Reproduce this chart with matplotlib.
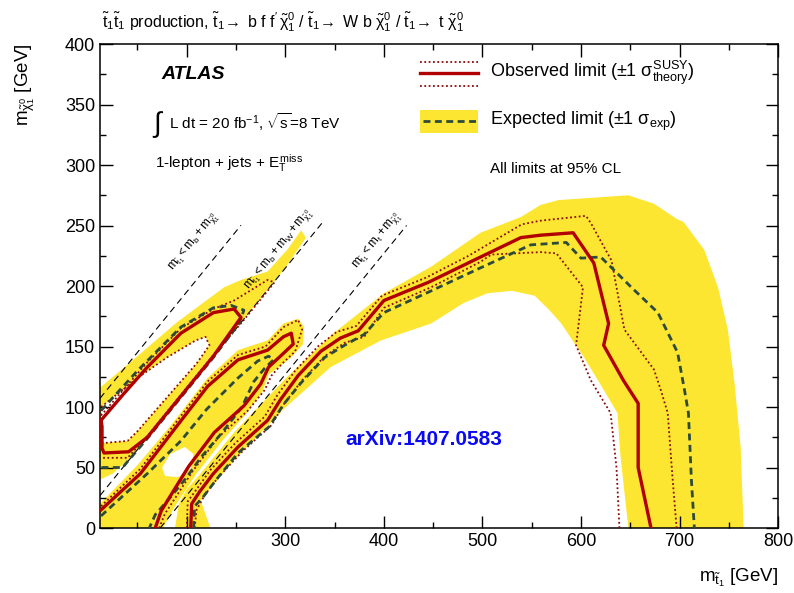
import matplotlib
matplotlib.use('Agg')
import matplotlib.pyplot as plt
from matplotlib.ticker import MultipleLocator

plt.rcParams['font.family'] = ['Liberation Sans', 'DejaVu Sans']
plt.rcParams['mathtext.fontset'] = 'custom'
plt.rcParams['mathtext.rm'] = 'Liberation Sans'
plt.rcParams['mathtext.it'] = 'Liberation Sans'
plt.rcParams['mathtext.bf'] = 'Liberation Sans:bold'

# ---- main region (t1 -> t chi / W b chi) ----
band_main_x = [188, 192, 200, 214, 248, 302, 349, 400, 448, 498, 539, 559, 577, 648, 674, 698, 704, 725, 739,
               749, 756, 762, 765,
               648, 640, 637, 618, 600, 593, 580, 568, 553, 530, 505, 481, 448, 397, 346, 298, 248, 214, 224]
band_main_y = [0, 20, 32, 45, 79, 125, 161, 194, 216, 244, 257, 267, 271, 275, 268, 255, 253, 230, 199,
               164, 118, 67, 0,
               0, 60, 95, 121, 145, 153, 169, 180, 192, 196, 194, 186, 169, 155, 133, 98, 56, 23, 0]

obs_main_x = [204, 205, 213, 227, 252, 282, 295, 313, 336, 356, 374, 400, 445, 488, 539, 559, 592, 613, 628,
              623, 643, 658, 658, 671]
obs_main_y = [0, 20, 30, 45, 67, 89, 106, 126, 146, 157, 163, 188, 203, 220, 240, 242, 244, 219, 169,
              151, 122, 103, 50, 0]

exp_main_x = [207, 208, 216, 230, 252, 284, 298, 316, 340, 360, 380, 400, 448, 498, 549, 585, 600, 620, 651,
              678, 698, 705, 709, 712, 715]
exp_main_y = [0, 18, 25, 40, 62, 84, 102, 120, 141, 151, 160, 178, 196, 215, 234, 236, 223, 224, 199,
              178, 145, 114, 95, 40, 0]

obs_up_main_x = [200, 201, 210, 224, 249, 279, 292, 310, 333, 352, 372, 398, 443, 486, 540, 559, 605, 610,
                 631, 644, 654, 674, 681, 688, 693, 697]
obs_up_main_y = [0, 22, 32, 48, 70, 92, 110, 130, 150, 162, 167, 192, 207, 225, 251, 254, 258, 252,
                 221, 164, 153, 131, 114, 95, 40, 0]

obs_dn_main_x = [208, 210, 218, 231, 256, 286, 299, 317, 340, 360, 380, 400, 448, 498, 509, 559, 575, 602,
                 595, 610, 630, 636, 639]
obs_dn_main_y = [0, 15, 27, 41, 63, 85, 103, 122, 142, 153, 158, 182, 199, 220, 226, 228, 227, 199,
                 151, 122, 95, 50, 0]

# ---- upper compressed strip (t1 -> b f f' chi) ----
band_upper_x = [112, 150, 190, 238, 255, 282, 302, 316, 321, 300, 256, 200, 160, 140, 125, 112]
band_upper_y = [116, 142, 170, 199, 205, 212, 230, 246, 240, 215, 171, 115, 75, 56, 45, 40]

hole_upper_x = [113, 150, 180, 209, 219, 223, 210, 180, 150, 140, 113]
hole_upper_y = [100, 124, 141, 155, 158, 151, 136, 108, 80, 72, 70]

obs_upper_x = [113, 135, 160, 194, 227, 248, 255, 227, 194, 160, 141, 116, 114, 114, 113]
obs_upper_y = [89, 110, 133, 161, 178, 181, 174, 142, 109, 75, 63, 62, 66, 84, 89]

exp_upper_x = [113, 150, 194, 227, 245, 258, 253, 227, 194, 160, 140, 135, 113]
exp_upper_y = [97, 130, 166, 182, 184, 180, 169, 141, 108, 74, 55, 50, 50]

obs_up_upper_x = [113, 160, 194, 227, 248, 282, 289, 257, 227, 194, 160, 140, 113]
obs_up_upper_y = [93, 137, 165, 181, 188, 205, 203, 171, 143, 110, 76, 58, 58]

# ---- middle island (t1 -> W b chi) ----
band_island_x = [112, 112, 150, 184, 221, 252, 282, 298, 313, 319, 318, 306, 292, 283, 277, 260, 236, 210,
                 188, 176]
band_island_y = [0, 20, 52, 85, 124, 147, 155, 169, 173, 166, 152, 141, 132, 127, 113, 94, 72, 45, 18, 0]

hole_island_x = [175, 183, 198, 207, 204, 191, 178]
hole_island_y = [50, 61, 67, 61, 49, 42, 43]

obs_island_x = [113, 153, 184, 221, 252, 282, 298, 306, 308, 295, 283, 275, 258, 228, 202, 186, 174, 168]
obs_island_y = [15, 45, 78, 117, 139, 147, 158, 161, 152, 142, 133, 119, 101, 79, 51, 30, 14, 0]

exp_island_x = [113, 160, 194, 220, 252, 272, 283, 288, 279, 268, 256, 236, 214, 200, 184, 168, 162]
exp_island_y = [10, 45, 72, 98, 124, 138, 142, 139, 132, 121, 100, 79, 58, 42, 26, 11, 0]

obs_up_island_x = [113, 153, 184, 221, 252, 280, 298, 313, 317, 310, 297, 286, 279, 262, 232, 206, 178, 172]
obs_up_island_y = [18, 49, 82, 121, 143, 150, 166, 172, 164, 146, 136, 126, 114, 97, 75, 47, 12, 0]

# ---- kinematic boundaries m_stop = offset + m_chi ----
kin_offsets = [4.8, 85.2, 173.0]
kin_x_start = [112, 112, 173]
kin_x_end = [255, 338, 423]
kin_labels = [r'$m_{\tilde{t}_1} < m_b + m_{\tilde{\chi}^0_1}$',
              r'$m_{\tilde{t}_1} < m_b + m_W + m_{\tilde{\chi}^0_1}$',
              r'$m_{\tilde{t}_1} < m_t + m_{\tilde{\chi}^0_1}$']
kin_label_x = [207, 294, 393]
kin_label_y = [236, 230, 237]

YELLOW = '#fde631'
RED = '#b00000'
DOTRED = '#8c0a0a'
GREEN = '#2d4a3a'

fig = plt.figure(figsize=(7.94, 5.93), dpi=100)
ax = fig.add_axes([0.126, 0.1096, 0.854, 0.8162])

# yellow +-1 sigma expected bands, with the white holes cut out
for bx, by in [(band_main_x, band_main_y), (band_upper_x, band_upper_y), (band_island_x, band_island_y)]:
    ax.fill(bx, by, color=YELLOW, lw=0, zorder=1)
for hx, hy in [(hole_upper_x, hole_upper_y), (hole_island_x, hole_island_y)]:
    ax.fill(hx, hy, color='white', lw=0, zorder=1.5)

# kinematic lines
for off, x0, x1, lab, lx, ly in zip(kin_offsets, kin_x_start, kin_x_end, kin_labels, kin_label_x, kin_label_y):
    ax.plot([x0, x1], [x0 - off, x1 - off], color='black', lw=0.8, ls=(0, (6, 4)), zorder=2)
    ax.text(lx, ly, lab, rotation=51, ha='center', va='center', fontsize=8.5, zorder=2)

dot_style = dict(color=DOTRED, lw=1.3, ls=(0, (1, 1.4)), zorder=3)
for px, py in [(obs_up_main_x, obs_up_main_y), (obs_dn_main_x, obs_dn_main_y),
               (obs_up_upper_x, obs_up_upper_y), (hole_upper_x + hole_upper_x[:1], hole_upper_y + hole_upper_y[:1]),
               (obs_up_island_x, obs_up_island_y)]:
    ax.plot(px, py, **dot_style)

for ex, ey in [(exp_main_x, exp_main_y), (exp_upper_x, exp_upper_y), (exp_island_x, exp_island_y)]:
    ax.plot(ex, ey, color=GREEN, lw=2.0, ls=(0, (2.5, 1.6)), zorder=4)

for ox, oy in [(obs_main_x, obs_main_y), (obs_upper_x, obs_upper_y), (obs_island_x, obs_island_y)]:
    ax.plot(ox, oy, color=RED, lw=2.4, solid_joinstyle='round', zorder=5)

ax.set_xlim(112, 800)
ax.set_ylim(0, 400)
ax.xaxis.set_major_locator(MultipleLocator(100))
ax.xaxis.set_minor_locator(MultipleLocator(50))
ax.yaxis.set_major_locator(MultipleLocator(50))
ax.yaxis.set_minor_locator(MultipleLocator(25))
ax.tick_params(which='both', direction='in', top=True, right=True, labelsize=13, width=1)
ax.tick_params(which='major', length=9)
ax.tick_params(which='minor', length=4.5)
for s in ax.spines.values():
    s.set_linewidth(1.1)

ax.set_xlabel(r'$m_{\tilde{t}_1}$ [GeV]', loc='right', fontsize=13.5, labelpad=12)
ax.set_ylabel(r'$m_{\tilde{\chi}^0_1}$ [GeV]', loc='top', fontsize=13.5, labelpad=20)

fig.text(0.128, 0.962, r'$\tilde{t}_1\tilde{t}_1$ production, $\tilde{t}_1\!\rightarrow$ b f f$^\prime\,\tilde{\chi}^0_1$ / '
         r'$\tilde{t}_1\!\rightarrow$ W b $\tilde{\chi}^0_1$ / $\tilde{t}_1\!\rightarrow$ t $\tilde{\chi}^0_1$',
         fontsize=11.5, ha='left', va='center')

# labels inside the frame
ax.text(0.091, 0.936, 'ATLAS', transform=ax.transAxes, fontsize=14, fontweight='bold', fontstyle='italic',
        va='center')
ax.text(0.077, 0.833, r'$\int$', transform=ax.transAxes, fontsize=20, va='center')
ax.text(0.102, 0.839, r'L dt = 20 fb$^{-1}$, $\sqrt{s}$=8 TeV', transform=ax.transAxes, fontsize=11,
        va='center')
ax.text(0.081, 0.754, r'1-lepton + jets + $E_{\mathrm{T}}^{\mathrm{miss}}$', transform=ax.transAxes,
        fontsize=11, va='center')

# legend drawn by hand
lx0, lx1 = 0.472, 0.558
ax.plot([lx0, lx1], [0.963, 0.963], transform=ax.transAxes, **dot_style)
ax.plot([lx0, lx1], [0.940, 0.940], transform=ax.transAxes, color=RED, lw=2.4, zorder=5)
ax.plot([lx0, lx1], [0.913, 0.913], transform=ax.transAxes, **dot_style)
ax.add_patch(plt.Rectangle((lx0, 0.816), lx1 - lx0, 0.048, transform=ax.transAxes, color=YELLOW, lw=0, zorder=3))
ax.plot([lx0 + 0.004, lx1 - 0.004], [0.840, 0.840], transform=ax.transAxes, color=GREEN, lw=2.0,
        ls=(0, (2.5, 1.6)), zorder=4)
ax.text(0.575, 0.940, r'Observed limit ($\pm$1 $\sigma^{\mathrm{SUSY}}_{\mathrm{theory}}$)', transform=ax.transAxes,
        fontsize=13, va='center')
ax.text(0.575, 0.840, r'Expected limit ($\pm$1 $\sigma_{\mathrm{exp}}$)', transform=ax.transAxes,
        fontsize=13, va='center')
ax.text(0.575, 0.741, 'All limits at 95% CL', transform=ax.transAxes, fontsize=11, va='center')

ax.text(0.478, 0.182, 'arXiv:1407.0583', transform=ax.transAxes, ha='center', va='center',
        color='#0a0af0', fontsize=15, fontweight='bold', zorder=6)

fig.savefig('out.png', dpi=100)
